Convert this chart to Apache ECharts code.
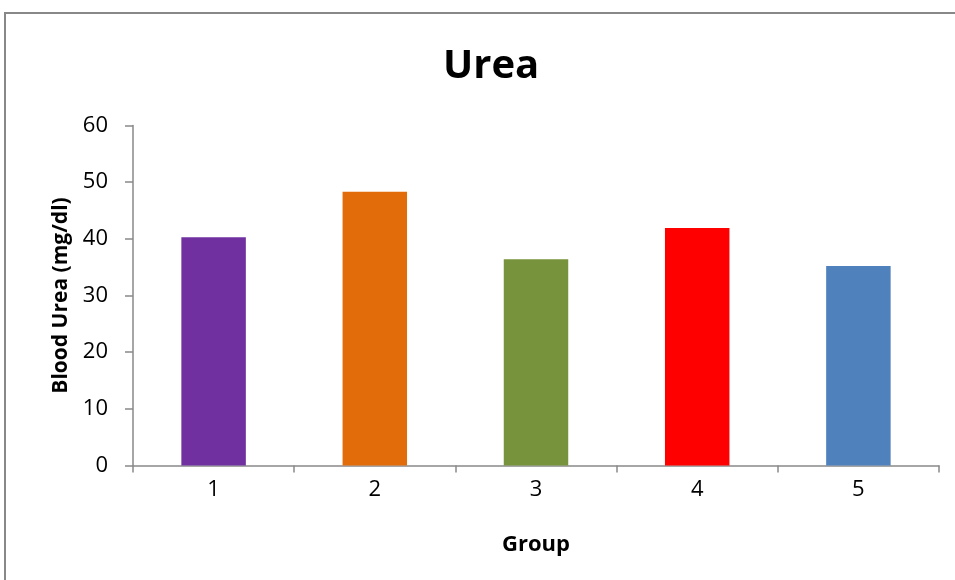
<!DOCTYPE html>
<html>
<head>
<meta charset="utf-8">
<script src="https://cdn.jsdelivr.net/npm/echarts@6/dist/echarts.min.js"></script>
<style>
  html, body { margin: 0; padding: 0; background: #fff; }
  #chart { width: 955px; height: 580px; }
</style>
</head>
<body>
<div id="chart"></div>
<script>
// Blood urea per group
const groups = ['1', '2', '3', '4', '5'];
const ureaValues = [40.3, 48.3, 36.4, 41.9, 35.2];
const barColors = ['#7030a0', '#e36c0a', '#77933c', '#ff0000', '#4f81bd'];
const yTicks = { min: 0, max: 60, interval: 10 };

const font = "'Open Sans', 'Liberation Sans', sans-serif";
const axisGray = '#898989';

const chart = echarts.init(document.getElementById('chart'), null, { renderer: 'canvas' });

chart.setOption({
  animation: false,
  backgroundColor: '#fff',
  graphic: [{
    type: 'rect',
    shape: { x: 5, y: 13, width: 1000, height: 700 },
    style: { fill: 'none', stroke: '#888888', lineWidth: 2 },
    silent: true
  }],
  title: {
    text: 'Urea',
    left: 438,
    top: 42,
    textStyle: { fontFamily: font, fontSize: 40, fontWeight: 'bold', color: '#000' }
  },
  grid: { left: 133, right: 16, top: 125.5, bottom: 114.5, containLabel: false },
  xAxis: {
    type: 'category',
    data: groups,
    name: 'Group',
    nameLocation: 'middle',
    nameGap: 68,
    nameTextStyle: { fontFamily: font, fontSize: 22, fontWeight: 'bold', color: '#000' },
    axisLine: { lineStyle: { color: axisGray, width: 1.5 } },
    axisTick: { show: true, length: 7, alignWithLabel: false, lineStyle: { color: axisGray, width: 1.5 } },
    axisLabel: { fontFamily: font, fontSize: 22, color: '#000', margin: 13 },
    splitLine: { show: false }
  },
  yAxis: {
    type: 'value',
    min: yTicks.min,
    max: yTicks.max,
    interval: yTicks.interval,
    name: 'Blood Urea (mg/dl)',
    nameLocation: 'middle',
    nameGap: 60,
    nameTextStyle: { fontFamily: font, fontSize: 21, fontWeight: 'bold', color: '#000' },
    axisLine: { show: true, lineStyle: { color: axisGray, width: 1.5 } },
    axisTick: { show: true, length: 8, lineStyle: { color: axisGray, width: 1.5 } },
    axisLabel: { fontFamily: font, fontSize: 22, color: '#000', margin: 25 },
    splitLine: { show: false }
  },
  series: [{
    type: 'bar',
    data: ureaValues.map((v, i) => ({ value: v, itemStyle: { color: barColors[i] } })),
    barWidth: '40%'
  }]
});
</script>
</body>
</html>
